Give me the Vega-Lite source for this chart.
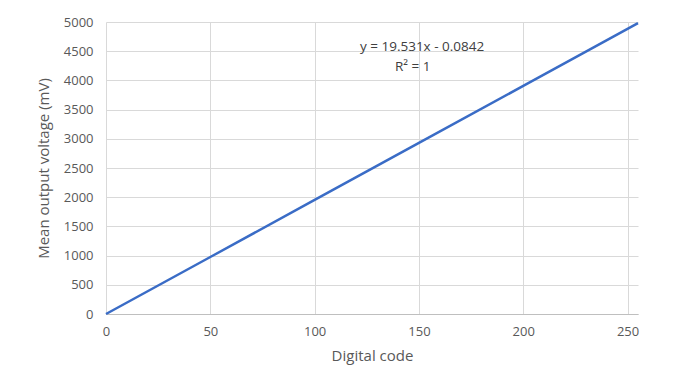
{
  "$schema": "https://vega.github.io/schema/vega-lite/v6.json",
  "autosize": "none",
  "width": 532,
  "height": 292,
  "padding": {"left": 106, "top": 22, "right": 42, "bottom": 77},
  "background": "white",
  "config": {
    "view": {"stroke": null},
    "font": "Open Sans",
    "axis": {
      "labelFont": "Open Sans",
      "titleFont": "Open Sans",
      "labelColor": "#595959",
      "titleColor": "#595959",
      "labelFontSize": 13,
      "titleFontSize": 15,
      "titleFontWeight": "normal",
      "gridColor": "#d9d9d9",
      "gridWidth": 1,
      "ticks": false,
      "labelOverlap": false,
      "labelFlush": false,
      "format": "d"
    }
  },
  "datasets": {
    "series": [
      {"code": 0, "mv": -0.08},
      {"code": 50, "mv": 976.5},
      {"code": 100, "mv": 1953.0},
      {"code": 150, "mv": 2929.6},
      {"code": 200, "mv": 3906.1},
      {"code": 255, "mv": 4980.3}
    ],
    "notes": [
      {"code": 151.5, "mv": 4570, "label": "y = 19.531x - 0.0842"},
      {"code": 147, "mv": 4230, "label": "R² = 1"}
    ]
  },
  "encoding": {
    "x": {
      "field": "code", "type": "quantitative",
      "scale": {"domain": [0, 255], "nice": false, "zero": true},
      "axis": {
        "title": "Digital code",
        "values": [0, 50, 100, 150, 200, 250],
        "tickCount": 20,
        "labelPadding": 11,
        "titlePadding": 10,
        "domain": true,
        "domainColor": "#bfbfbf",
        "domainWidth": 1
      }
    },
    "y": {
      "field": "mv", "type": "quantitative",
      "scale": {"domain": [0, 5000], "nice": false},
      "axis": {
        "title": "Mean output voltage (mV)",
        "values": [0, 500, 1000, 1500, 2000, 2500, 3000, 3500, 4000, 4500, 5000],
        "tickCount": 20,
        "labelPadding": 13,
        "titlePadding": 12,
        "domain": false
      }
    }
  },
  "layer": [
    {
      "data": {"name": "series"},
      "mark": {"type": "line", "color": "#3a6cc6", "strokeWidth": 2.5, "clip": false}
    },
    {
      "data": {"name": "notes"},
      "mark": {"type": "text", "color": "#404040", "fontSize": 13.5, "font": "Open Sans", "align": "center", "baseline": "middle"},
      "encoding": {
        "text": {"field": "label"}
      }
    }
  ]
}
